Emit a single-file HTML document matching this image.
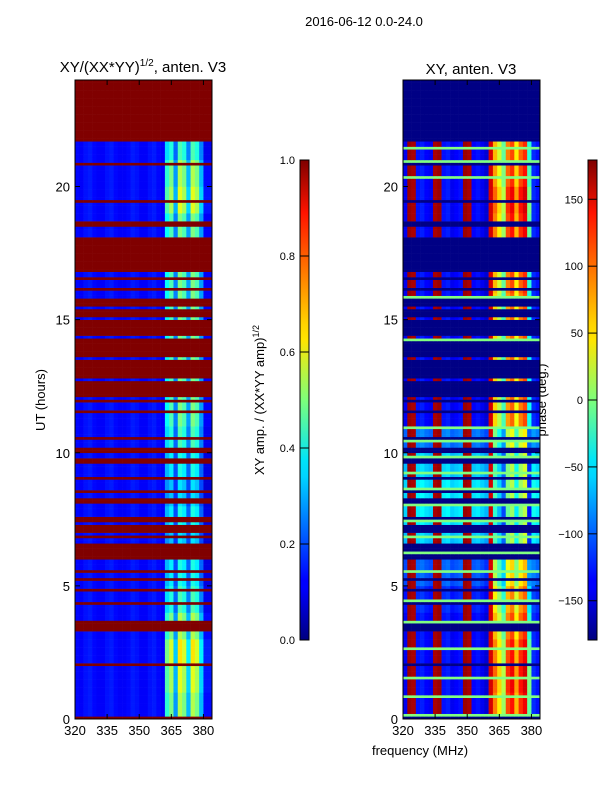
<!DOCTYPE html>
<html><head><meta charset="utf-8"><style>
body{margin:0;background:#fff;}
svg text{font-family:"Liberation Sans",sans-serif;fill:#000;}
</style></head><body>
<svg id="fig" width="600" height="800" xmlns="http://www.w3.org/2000/svg">
<defs>
<linearGradient id="jet" x1="0" y1="1" x2="0" y2="0">
<stop offset="0" stop-color="#00007f"/><stop offset="0.11" stop-color="#0000ff"/><stop offset="0.125" stop-color="#0000ff"/>
<stop offset="0.34" stop-color="#00d4ff"/><stop offset="0.375" stop-color="#00e5f8"/><stop offset="0.5" stop-color="#7dff7a"/>
<stop offset="0.625" stop-color="#ffe500"/><stop offset="0.66" stop-color="#ffd200"/><stop offset="0.89" stop-color="#ff1300"/><stop offset="1" stop-color="#7f0000"/>
</linearGradient>
</defs>
<text x="364" y="26" font-size="13" text-anchor="middle">2016-06-12 0.0-24.0</text>
<text x="143" y="72" font-size="15" text-anchor="middle">XY/(XX*YY)<tspan font-size="10" dy="-6">1/2</tspan><tspan dy="6">, anten. V3</tspan></text>
<text x="471" y="74" font-size="15" text-anchor="middle">XY, anten. V3</text>
<text transform="translate(45,400) rotate(-90)" font-size="13" text-anchor="middle">UT (hours)</text>
<text transform="translate(264,400) rotate(-90)" font-size="13" text-anchor="middle">XY amp. / (XX*YY amp)<tspan font-size="9" dy="-5">1/2</tspan></text>
<text transform="translate(546,400) rotate(-90)" font-size="13" text-anchor="middle">phase (deg.)</text>
<text x="420" y="755" font-size="13" text-anchor="middle">frequency (MHz)</text>
<g id="left"></g>
<g id="right"></g>
<rect x="300" y="160" width="9" height="480" fill="url(#jet)" stroke="#000" stroke-width="1"/>
<rect x="588" y="160" width="9" height="480" fill="url(#jet)" stroke="#000" stroke-width="1"/>
<g id="axes"></g>
</svg>
<script>
// frequency bins (MHz, lower edge, 2 MHz wide)
const freqBins = [320,322,324,326,328,330,332,334,336,338,340,342,344,346,348,350,352,354,356,358,360,362,364,366,368,370,372,374,376,378,380,382];
// amplitude profile across frequency
const ampProfile = [0.13,0.12,0.14,0.15,0.13,0.12,0.12,0.14,0.15,0.13,0.12,0.12,0.13,0.15,0.14,0.12,0.12,0.14,0.15,0.13,0.12,0.38,0.45,0.25,0.5,0.45,0.28,0.5,0.45,0.28,0.12,0.12];
// phase profile across frequency (deg)
const phaseProfile = [-140,170,165,-130,-125,-135,-140,165,170,-130,-125,-140,-135,-130,170,165,-135,-130,-140,-150,150,60,20,-20,80,100,40,90,110,-40,-120,-130];
// hourly amplitude gain (hours 0..23)
const hourGain = [1.1,1.2,1.3,1.1,0.9,0.8,0.7,0.8,0.7,0.8,0.9,1.0,1,1,1,1,1.0,1.0,1.0,1.2,1.1,0.9,1,1];
// hourly phase offset for the high-frequency block (deg)
const hourPhase = [30,40,30,10,-10,-40,-80,-90,-80,-80,-60,0,0,0,0,0,10,20,30,40,20,10,0,0];
// hourly phase offset for low-frequency blue background (deg)
const hourBase = [0,0,0,0,10,30,70,80,80,70,40,0,0,0,0,0,0,0,0,0,0,0,0,0];
// flagged time spans (hours) [start,end]
const flagStarts = [21.7,20.8,19.45,18.65,18.55,16.8,16.5,16.15,11.9,11.5,10.5,10.0,9.6,9.05,8.5,8.1,7.45,7.05,6.8,6.0,5.5,5.2,4.83,4.33,3.35,2.88,2.03,1.48,0];
const flagEnds   = [24.0,20.92,19.55,18.72,18.62,18.1,16.62,16.25,15.8,11.58,10.65,10.2,9.8,9.15,8.6,8.3,7.6,7.3,6.95,6.6,5.58,5.27,4.9,4.4,3.7,2.95,2.1,1.55,0.07];
// thin unflagged lines inside the 11.9-15.8 block (hours)
const dataLines = [15.45,15.05,14.35,13.55,12.75,12.05];
// phase lines near 0 deg (lime) on the right panel (hours)
const limeLines = [21.45,20.95,20.35,15.85,14.25,10.95,10.45,9.85,9.25,8.65,8.05,7.45,6.85,6.25,5.55,4.45,3.65,2.65,1.55,0.85,0.15];

const X0=75,W=137,RX0=403,Y0=719,YT=80;
const fx=f=>(f-320)*W/64;
const hy=h=>Y0-(h)*(Y0-YT)/24;
function jet(v){v=Math.max(0,Math.min(1,v));
 const r=Math.min(4*v-1.5,-4*v+4.5),g=Math.min(4*v-0.5,-4*v+3.5),b=Math.min(4*v+0.5,-4*v+2.5);
 const c=x=>Math.round(255*Math.max(0,Math.min(1,x)));return `rgb(${c(r)},${c(g)},${c(b)})`;}
const NS="http://www.w3.org/2000/svg";
function rect(g,x,y,w,h,fill,name){const r=document.createElementNS(NS,'rect');
 r.setAttribute('x',x);r.setAttribute('y',y);r.setAttribute('width',w);r.setAttribute('height',h);r.setAttribute('fill',fill);
 
 
 g.appendChild(r);return r;}
const L=document.getElementById('left'),R=document.getElementById('right');
function isFlag(h){for(let i=0;i<flagStarts.length;i++){if(h>=flagStarts[i]&&h<flagEnds[i]){
 if(flagStarts[i]===11.9){for(const d of dataLines){if(Math.abs(h-d)<0.04)return false;}}return true;}}return false;}
const dh=0.1;
for(let k=0;k<240;k++){
 const h=k*dh+dh/2, hr=Math.floor(h);
 const y=hy(k*dh+dh), hh=(Y0-YT)/240+0.3;
 const flag=isFlag(h);
 let lime=false;for(const l of limeLines){if(Math.abs(h-l)<0.04)lime=true;}
 for(let j=0;j<freqBins.length;j++){
  const x=fx(freqBins[j]),w=W/32+0.3;
  let av=flag?1.0:Math.min(0.95,ampProfile[j]*(j>20?hourGain[hr]:1));
  rect(L,X0+x,y,w,hh,jet(av),'amp-cell');
  let pv;
  if(lime)pv=0;
  else if(flag)pv=-178;
  else {pv=phaseProfile[j];
   if(j>20&&j<30)pv+=hourPhase[hr];
   else if(pv<0)pv+=hourBase[hr];
   if(pv>180)pv=175;}
  rect(R,RX0+x,y,w,hh,jet((pv+180)/360),'phase-cell');
 }
}
// axes
const A=document.getElementById('axes');
const xTicks=[320,335,350,365,380],yTicks=[0,5,10,15,20];
function el(tag,attrs,name,text){const e=document.createElementNS(NS,tag);for(const k in attrs)e.setAttribute(k,attrs[k]);
 
 
 if(text!==undefined)e.textContent=text;A.appendChild(e);return e;}
for(const ox of [X0,RX0]){
 el('rect',{x:ox,y:YT,width:W,height:Y0-YT,fill:'none',stroke:'#000','stroke-width':1},'axes-frame');
 for(const t of xTicks){const x=ox+fx(t);
  el('line',{x1:x,y1:Y0,x2:x,y2:Y0-5,stroke:'#000'},'x-tick');
  el('line',{x1:x,y1:YT,x2:x,y2:YT+5,stroke:'#000'},'x-tick');
  el('text',{x:x,y:Y0+16,'font-size':13,'text-anchor':'middle'},'x-tick-label',String(t));}
 for(const t of yTicks){const y=hy(t);
  el('line',{x1:ox,y1:y,x2:ox+5,y2:y,stroke:'#000'},'y-tick');
  el('line',{x1:ox+W,y1:y,x2:ox+W-5,y2:y,stroke:'#000'},'y-tick');
  el('text',{x:ox-5,y:y+5,'font-size':13,'text-anchor':'end'},'y-tick-label',String(t));}
}
const ampTicks=['0.0','0.2','0.4','0.6','0.8','1.0'];
ampTicks.forEach((t,i)=>{const y=640-i*96;
 el('line',{x1:300,y1:y,x2:309,y2:y,stroke:'#000'},'amp-colorbar-tick');
 el('text',{x:295,y:y+4,'font-size':11,'text-anchor':'end'},'amp-colorbar-tick-label',t);});
const phTicks=[-150,-100,-50,0,50,100,150];
phTicks.forEach(t=>{const y=400-t*1.3383;
 el('line',{x1:588,y1:y,x2:597,y2:y,stroke:'#000'},'phase-colorbar-tick');
 el('text',{x:583,y:y+4,'font-size':11,'text-anchor':'end'},'phase-colorbar-tick-label',t<0?'\u2212'+(-t):String(t));});
</script>
</body></html>
